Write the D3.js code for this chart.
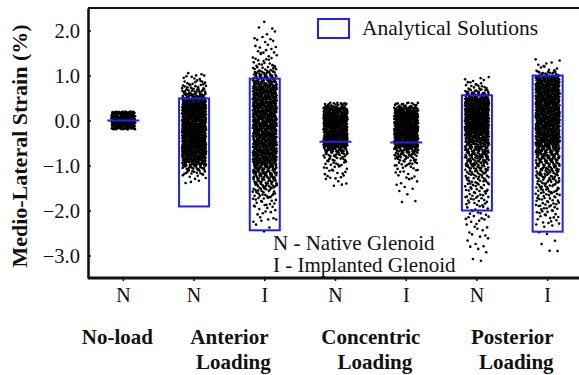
<!DOCTYPE html>
<html>
<head>
<meta charset="utf-8">
<script src="https://cdn.jsdelivr.net/npm/d3@7"></script>
<style>
  body { margin: 0; background: #fff; }
  text { font-family: "Liberation Serif", "Times New Roman", serif; fill: #111; }
</style>
</head>
<body>
<div id="chart"></div>
<script>
// Categories along the x axis (N = native, I = implanted)
const categories = ['N', 'N', 'I', 'N', 'I', 'N', 'I'];
const groupLabels = [['No-load'], ['Anterior', 'Loading'], ['Concentric', 'Loading'], ['Posterior', 'Loading']];
const groupMembers = [[0], [1, 2], [3, 4], [5, 6]];
const yTicks = [2.0, 1.0, 0.0, -1.0, -2.0, -3.0];

// Analytical solutions (box top / bottom, %); equal values are drawn as a line
const analyticalTop = [0.0, 0.49, 0.93, -0.47, -0.49, 0.56, 1.0];
const analyticalBottom = [0.0, -1.91, -2.44, -0.47, -0.49, -2.0, -2.47];

// Measured strain distribution per category, read from the picture:
// upper edge of the first 0.1 % bin, then point counts per bin going down
const binTop = [0.2, 1.1, 2.2, 0.4, 0.4, 1.0, 1.4];
const binCounts = [
  [50, 60, 60, 50],
  [3, 6, 10, 14, 20, 30, 45, 55, 60, 60, 60, 60, 60, 60, 60, 60, 60, 60, 60, 50, 35, 22, 12, 6, 3],
  [1, 2, 2, 3, 3, 4, 5, 5, 6, 8, 12, 18, 25, 32, 38, 42, 42, 42, 42, 42, 42, 42, 42, 42, 42, 42, 42, 42, 42, 42, 42,
   38, 32, 28, 24, 20, 17, 14, 11, 9, 7, 5, 4, 3, 3, 2, 1],
  [20, 45, 60, 60, 60, 60, 60, 60, 60, 60, 30, 18, 12, 9, 7, 6, 5, 3, 2],
  [18, 40, 55, 55, 55, 55, 55, 55, 55, 55, 30, 20, 14, 10, 7, 5, 4, 3, 2, 2, 1, 1, 1],
  [3, 6, 10, 18, 35, 60, 60, 60, 60, 60, 60, 60, 60, 40, 35, 30, 28, 25, 22, 20, 17, 15, 13, 12, 11, 10, 9, 8, 7,
   6, 5, 5, 4, 3, 3, 3, 2, 2, 2, 1, 1, 1],
  [2, 4, 6, 14, 35, 48, 48, 48, 48, 48, 48, 48, 48, 48, 48, 48, 48, 48, 48, 38, 32, 28, 25, 22, 20, 18, 16, 14, 13,
   12, 11, 10, 9, 8, 7, 6, 5, 3, 1, 1, 1, 1, 1, 1]
];

const width = 579;
const height = 375;
const margin = { top: 8, left: 88, bottom: 278, right: 583 };
const blue = '#2020ff';

const svg = d3.select('#chart').append('svg')
  .attr('width', width)
  .attr('height', height);

const x = d3.scaleBand()
  .domain(d3.range(categories.length))
  .range([margin.left, margin.right]);
const cx = i => x(i) + x.bandwidth() / 2;

const y = d3.scaleLinear()
  .domain([-3.5, 2.5])
  .range([margin.bottom, margin.top]);

// low-discrepancy sequence so the strip jitter is spread evenly
function halton(i, b) {
  let f = 1, r = 0;
  while (i > 0) { f /= b; r += f * (i % b); i = Math.floor(i / b); }
  return r;
}

const points = [];
let k = 1;
binCounts.forEach((counts, ci) => {
  counts.forEach((c, bi) => {
    for (let j = 0; j < c; j++, k++) {
      points.push({
        cat: ci,
        value: binTop[ci] - 0.1 * (bi + halton(k, 2)),
        jitter: halton(k, 3) - 0.5
      });
    }
  });
});

const stripWidth = 24;
svg.append('g')
  .selectAll('circle')
  .data(points)
  .enter()
  .append('circle')
  .attr('cx', d => cx(d.cat) + d.jitter * stripWidth)
  .attr('cy', d => y(d.value))
  .attr('r', 1.3)
  .attr('fill', '#000');

// analytical solution boxes
const boxW = 30;
const boxes = svg.append('g');
categories.forEach((c, i) => {
  if (analyticalTop[i] === analyticalBottom[i]) {
    boxes.append('line')
      .attr('x1', cx(i) - boxW / 2 - 1)
      .attr('x2', cx(i) + boxW / 2 + 1)
      .attr('y1', y(analyticalTop[i]))
      .attr('y2', y(analyticalTop[i]))
      .attr('stroke', blue)
      .attr('stroke-width', 2);
  } else {
    boxes.append('rect')
      .attr('x', cx(i) - boxW / 2)
      .attr('y', y(analyticalTop[i]))
      .attr('width', boxW)
      .attr('height', y(analyticalBottom[i]) - y(analyticalTop[i]))
      .attr('fill', 'none')
      .attr('stroke', blue)
      .attr('stroke-width', 2);
  }
});

// axes
const yAxis = svg.append('g')
  .attr('transform', `translate(${margin.left},0)`)
  .call(d3.axisLeft(y).tickValues(yTicks).tickFormat(d3.format('.1f')).tickSize(-3).tickSizeOuter(0));
yAxis.select('.domain').attr('stroke', '#111').attr('stroke-width', 2.6);
yAxis.selectAll('.tick line').attr('stroke', '#111').attr('stroke-width', 1.5);
yAxis.selectAll('.tick text')
  .attr('x', -8)
  .attr('dy', '0.34em')
  .style('font-size', '20.5px')
  .style('font-family', '"Liberation Serif", serif')
  .attr('fill', '#111');

const xAxis = svg.append('g')
  .attr('transform', `translate(0,${margin.bottom})`)
  .call(d3.axisBottom(x).tickFormat(i => categories[i]).tickSize(3).tickSizeOuter(0));
xAxis.select('.domain').attr('stroke', '#111').attr('stroke-width', 2.8)
  .attr('d', `M${margin.left},0H${width}`);
xAxis.selectAll('.tick line').attr('stroke', '#111').attr('stroke-width', 1.5);
xAxis.selectAll('.tick text')
  .attr('y', 10)
  .attr('dy', '0.71em')
  .style('font-size', '20px')
  .style('font-family', '"Liberation Serif", serif')
  .attr('fill', '#111');

// top frame line
svg.append('line')
  .attr('x1', margin.left).attr('x2', width)
  .attr('y1', margin.top).attr('y2', margin.top)
  .attr('stroke', '#111').attr('stroke-width', 2);

// group labels
groupLabels.forEach((lines, gi) => {
  const gx = d3.mean(groupMembers[gi], cx) + (gi === 0 ? -6 : 0);
  lines.forEach((t, li) => {
    svg.append('text')
      .attr('x', gx + (li === 1 ? 4 : 0))
      .attr('y', 344 + li * 25)
      .attr('text-anchor', 'middle')
      .style('font-size', '21px')
      .style('font-weight', 'bold')
      .text(t);
  });
});

// y axis title
svg.append('text')
  .attr('transform', 'translate(27,146) rotate(-90)')
  .attr('text-anchor', 'middle')
  .style('font-size', '22px')
  .style('font-weight', 'bold')
  .text('Medio-Lateral Strain (%)');

// legend
svg.append('rect')
  .attr('x', 318).attr('y', 19)
  .attr('width', 31).attr('height', 19)
  .attr('fill', 'none')
  .attr('stroke', blue)
  .attr('stroke-width', 2);
svg.append('text')
  .attr('x', 362).attr('y', 35)
  .style('font-size', '21.5px')
  .text('Analytical Solutions');

// annotation
svg.append('text')
  .attr('x', 273).attr('y', 250)
  .style('font-size', '21px')
  .text('N - Native Glenoid');
svg.append('text')
  .attr('x', 273).attr('y', 272)
  .style('font-size', '21px')
  .text('I - Implanted Glenoid');
</script>
</body>
</html>
